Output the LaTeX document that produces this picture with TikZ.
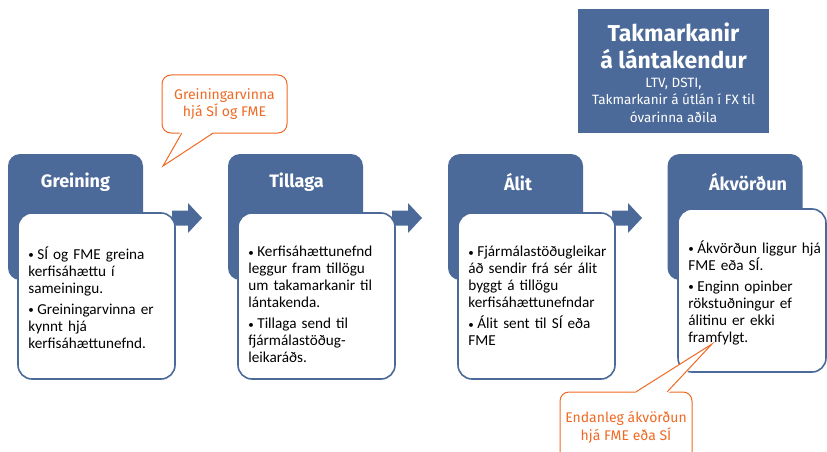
\documentclass[tikz,border=0pt]{standalone}
\usepackage{fontspec}
\setmainfont{Carlito}
\newfontfamily\dinfont{Fira Sans}
\usepackage{tikz}
\usetikzlibrary{calc}
\definecolor{slate}{RGB}{76, 106, 153}
\definecolor{tangerine}{RGB}{240, 105, 35}
\def\headw{135pt}
\def\headh{126pt}
\def\cardw{157pt}
\def\cardh{166pt}
\newcommand{\bitem}[1]{\hangindent=9pt\hangafter=1\noindent\makebox[9pt][l]{\raisebox{0.5pt}{\fontsize{11}{11}\selectfont\textbullet}}#1\par}

\begin{document}
\begin{tikzpicture}[x=1pt, y=-1pt, line width=0.7pt, line cap=round,
  head/.style={fill=slate, rounded corners=12pt, minimum width=\headw, minimum height=\headh, inner sep=0pt},
  headtitle/.style={text=white, font=\dinfont\bfseries\fontsize{18}{22}\selectfont},
  card/.style={draw=slate, line width=1.6pt, fill=white, rounded corners=14pt, minimum width=\cardw, minimum height=\cardh, inner sep=0pt},
  bullets/.style={anchor=north west, inner sep=0pt, text width=142pt, font=\fontsize{15.2}{17}\selectfont,
    execute at begin node={\raggedright\parskip=4pt}},
  callout/.style={draw=tangerine, line width=1pt, fill=white, rounded corners=9pt, text=tangerine, align=center, inner sep=0pt},
  tail/.style={draw=tangerine, line width=1pt, line join=miter},
  chevron/.style={fill=slate}]

                 \useasboundingbox (0,0) rectangle (827,452);

                 \node[fill=slate, minimum width=191pt, minimum height=124pt, inner sep=0pt] (bxLimits) at (673.5, 71) {};
                 \node[text=white, font=\dinfont\bfseries\fontsize{23}{27}\selectfont, align=center] (ttLimits) at (673.5, 45.5) {Takmarkanir\\á lántakendur};
                 \node[text=white, font=\dinfont\fontsize{13.5}{17.5}\selectfont, align=center] (sbLimits) at (673.5, 100) {LTV, DSTI,\\Takmarkanir á útlán í FX til\\óvarinna aðila};

                 \node[head] (hdGreining) at (75.5, 217) {};
                 \node[head] (hdTillaga) at (295.5, 217) {};
                 \node[head] (hdAlit) at (515.5, 217) {};
                 \node[head] (hdAkvordun) at (735, 217) {};

                 \node[headtitle] (ttGreining) at (75.5, 182) {Greining};
                 \node[headtitle] (ttTillaga) at (296.5, 182) {Tillaga};
                 \node[headtitle] (ttAlit) at (518, 182) {Álit};
                 \node[headtitle] (ttAkvordun) at (748, 182) {Ákvörðun};

                 \coordinate (arGreining) at (172, 218);
                 \coordinate (arTillaga) at (392, 218);
                 \coordinate (arAlit) at (612, 218);
                 \fill[chevron] (arGreining) ++(0,-7.5) -- ++(16,0) -- ++(0,-7.5) -- ++(14,15) -- ++(-14,15) -- ++(0,-7.5) -- ++(-16,0) -- cycle;
                 \fill[chevron] (arTillaga) ++(0,-7.5) -- ++(16,0) -- ++(0,-7.5) -- ++(14,15) -- ++(-14,15) -- ++(0,-7.5) -- ++(-16,0) -- cycle;
                 \fill[chevron] (arAlit) ++(0,-7.5) -- ++(16,0) -- ++(0,-7.5) -- ++(14,15) -- ++(-14,15) -- ++(0,-7.5) -- ++(-16,0) -- cycle;

                 \node[card] (cdGreining) at (96.5, 296) {};
                 \node[card] (cdTillaga) at (316.5, 296) {};
                 \node[card] (cdAlit) at (536.5, 296) {};
                 \node[card, minimum width=148pt, minimum height=163pt] (cdAkvordun) at (752, 290.5) {};

                 \node[bullets] (txGreining) at (28, 246) {\bitem{SÍ og FME greina\\ kerfisáhættu í\\ sameiningu.}\bitem{Greiningarvinna er\\ kynnt hjá\\ kerfisáhættunefnd.}};
                 \node[bullets] (txTillaga) at (248, 246) {\bitem{Kerfisáhættunefnd\\ leggur fram tillögu\\ um takamarkanir til\\ lántakenda.}\bitem{Tillaga send til\\ fjármálastöðug-\\ leikaráðs.}};
                 \node[bullets] (txAlit) at (468, 246) {\bitem{Fjármálastöðugleikar\\ áð sendir frá sér álit\\ byggt á tillögu\\ kerfisáhættunefndar}\bitem{Álit sent til SÍ eða\\ FME}};
                 \node[bullets, text width=136pt] (txAkvordun) at (688, 240) {\bitem{Ákvörðun liggur hjá\\ FME eða SÍ.}\bitem{Enginn opinber\\ rökstuðningur ef\\ álitinu er ekki\\ framfylgt.}};

                 \node[callout, minimum width=125pt, minimum height=58pt, font=\dinfont\fontsize{14}{17}\selectfont] (clGreining) at (224.5, 104) {Greiningarvinna\\hjá SÍ og FME};
                 \coordinate (tipGreining) at (163, 166);
                 \fill[white] ($(clGreining.south west)+(19,-1.5)$) -- (tipGreining) -- ($(clGreining.south west)+(52,-1.5)$) -- cycle;
                 \draw[tail] ($(clGreining.south west)+(20,0)$) -- (tipGreining) -- ($(clGreining.south west)+(51,0)$);

                 \node[callout, minimum width=132pt, minimum height=70pt, font=\dinfont\fontsize{14}{18}\selectfont] (clAkvordun) at (626, 427) {Endanleg ákvörðun\\hjá FME eða SÍ};
                 \coordinate (tipAkvordun) at (712, 344);
                 \fill[white] ($(clAkvordun.north west)+(76,1.5)$) -- (tipAkvordun) -- ($(clAkvordun.north west)+(109,1.5)$) -- cycle;
                 \draw[tail] ($(clAkvordun.north west)+(77,0)$) -- (tipAkvordun) -- ($(clAkvordun.north west)+(108,0)$);

             \end{tikzpicture}
\end{document}
